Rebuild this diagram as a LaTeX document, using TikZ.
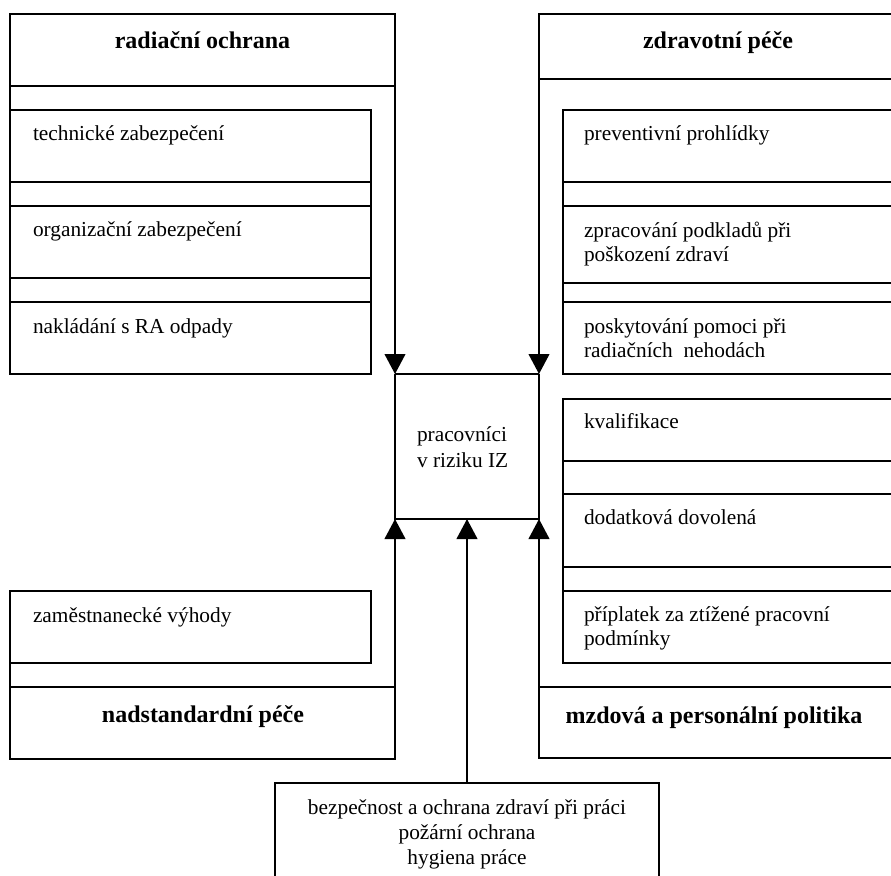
\documentclass[tikz,border=0pt]{standalone}
\usepackage{fontspec}
\setmainfont{Liberation Serif}
\usetikzlibrary{arrows.meta,fit}
\begin{document}
\begin{tikzpicture}[x=0.75pt,y=-0.75pt,
  line width=1.5pt,
  frame/.style={draw, rectangle, inner sep=0pt, outer sep=0pt, line width=1.5pt},
  hole/.style={rectangle, inner sep=0pt, outer sep=0pt},
  arr/.style={-{Triangle[length=15pt,width=15.5pt]}, line width=1.5pt},
  txt/.style={inner sep=0pt, anchor=base west, font=\fontsize{16}{18.5}\selectfont},
  hdr/.style={inner sep=0pt, anchor=base, font=\fontsize{18}{21}\selectfont\bfseries},
]
\clip (0,0) rectangle (891,875);
\fill[white] (0,0) rectangle (891,875);

% ---- radiacni ochrana (top left)
\node[frame, fit={(10,14) (395,86)}] (ro) {};
\node[frame, fit={(10,110) (371,182)}] (l1) {};
\node[frame, fit={(10,206) (371,278)}] (l2) {};
\node[frame, fit={(10,302) (371,374)}] (l3) {};
\node[hdr] (rot) at (202.5,48) {radiační ochrana};
\node[txt] (l1t) at (32,140) {technické zabezpečení};
\node[txt] (l2t) at (32,236) {organizační zabezpečení};
\node[txt] (l3t) at (32,333) {nakládání s RA odpady};
\draw (ro.south west) -- (l3.south west);
\draw (l1.south east) -- (l2.north east);
\draw (l2.south east) -- (l3.north east);

% ---- zdravotni pece (top right)
\node[frame, fit={(539,14) (900,79)}] (zp) {};
\node[frame, fit={(563,110) (900,182)}] (r1) {};
\node[frame, fit={(563,206) (900,283)}] (r2) {};
\node[frame, fit={(563,302) (900,374)}] (r3) {};
\node[hdr] (zpt) at (718,48) {zdravotní péče};
\node[txt] (r1t) at (583,140) {preventivní prohlídky};
\node[txt] (r2t) at (583,237) {\begin{tabular}[t]{@{}l@{}}zpracování podkladů při\\poškození zdraví\end{tabular}};
\node[txt] (r3t) at (583,333) {\begin{tabular}[t]{@{}l@{}}poskytování pomoci při\\radiačních\ \ nehodách\end{tabular}};
\draw (r1.south west) -- (r2.north west);
\draw (r2.south west) -- (r3.north west);

% ---- pracovnici (centre)
\node[hole, fit={(395,374) (539,519)}] (prac) {};
\draw[line width=0.8pt] (prac.north west) -- (prac.north east);
\draw (prac.north west) -- (prac.south west) -- (prac.south east) -- (prac.north east);
\node[txt, font=\fontsize{16}{19.5}\selectfont] (pt) at (416,441) {\begin{tabular}[t]{@{}l@{}}pracovníci\\v riziku IZ\end{tabular}};

% ---- mzdova a personalni politika (bottom right)
\node[frame, fit={(563,399) (900,461)}] (r4) {};
\node[frame, fit={(563,494) (900,567)}] (r5) {};
\node[frame, fit={(563,591) (900,663)}] (r6) {};
\node[frame, fit={(539,687) (900,758)}] (mz) {};
\node[txt] (r4t) at (583,428) {kvalifikace};
\node[txt] (r5t) at (583,524) {dodatková dovolená};
\node[txt] (r6t) at (583,621) {\begin{tabular}[t]{@{}l@{}}příplatek za ztížené pracovní\\podmínky\end{tabular}};
\node[hdr] (mzt) at (714,723) {mzdová a personální politika};
\draw (r4.south west) -- (r5.north west);
\draw (r5.south west) -- (r6.north west);

% ---- nadstandardni pece (bottom left)
\node[frame, fit={(10,591) (371,663)}] (l4) {};
\node[frame, fit={(10,687) (395,759)}] (ns) {};
\node[txt] (l4t) at (32,622) {zaměstnanecké výhody};
\node[hdr] (nst) at (203,722) {nadstandardní péče};
\draw (l4.south west) -- (ns.north west);

% ---- bezpecnost (bottom)
\node[frame, fit={(275,783) (659,900)}] (bz) {};
\node[inner sep=0pt, anchor=base, font=\fontsize{16}{18.75}\selectfont] (bzt) at (467,814)
  {\begin{tabular}[t]{@{}c@{}}bezpečnost a ochrana zdraví při práci\\požární ochrana\\hygiena práce\end{tabular}};

% ---- arrows
\draw[arr] (ro.south east) -- (prac.north west);
\draw[arr] (zp.south west) -- (prac.north east);
\draw[arr] (ns.south east) -- (prac.south west);
\draw[arr] (mz.south west) -- (prac.south east);
\draw[arr] (bz.north) -- (prac.south);
\end{tikzpicture}
\end{document}
